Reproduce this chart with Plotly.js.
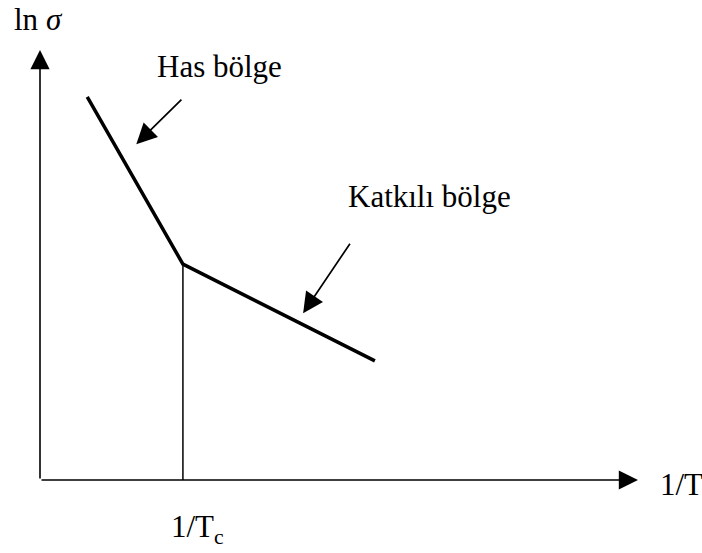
<!DOCTYPE html>
<html>
<head>
<meta charset="utf-8">
<script src="https://cdn.plot.ly/plotly-3.0.1.min.js"></script>
<style>
  html, body { margin: 0; padding: 0; background: #fff; }
  #chart { width: 702px; height: 553px; }
</style>
</head>
<body>
<div id="chart"></div>
<script>
// ln(sigma) against 1/T: intrinsic region (steep) and extrinsic region (shallow)
const invT   = [0.79, 2.39, 5.60];   // 1/T, arbitrary units
const lnSig  = [8.91, 5.02, 2.77];   // ln sigma, arbitrary units
const regionLabels = ['Has bölge', 'Katkılı bölge'];
const axisLabels   = ['ln <i>σ</i>', '1/T', '1/T<sub>c</sub>'];

const serif = 'Liberation Serif, Times New Roman, serif';
const knee = { x: invT[1], y: lnSig[1] };

const trace = {
  x: invT,
  y: lnSig,
  mode: 'lines',
  line: { color: '#000', width: 3.5 },
  hoverinfo: 'skip',
  showlegend: false
};

// arrow helper: tail (ax, ay) -> tip (x, y), all in data coordinates
function arrow(ax, ay, x, y, w, size) {
  return {
    x: x, y: y, ax: ax, ay: ay,
    xref: 'x', yref: 'y', axref: 'x', ayref: 'y',
    text: '', showarrow: true,
    arrowhead: 2, arrowsize: size, arrowwidth: w, arrowcolor: '#000'
  };
}

function label(text, x, y, xanchor, ref) {
  return {
    x: x, y: y, xref: ref, yref: ref === 'paper' ? 'paper' : 'y',
    text: text, showarrow: false,
    xanchor: xanchor, yanchor: 'middle',
    font: { family: serif, size: 31, color: '#000' }
  };
}

const layout = {
  width: 702,
  height: 553,
  margin: { l: 40, r: 64, t: 50, b: 73 },
  paper_bgcolor: '#fff',
  plot_bgcolor: '#fff',
  showlegend: false,
  xaxis: { range: [0, 10], visible: false, fixedrange: true },
  yaxis: { range: [0, 10], visible: false, fixedrange: true },
  shapes: [
    // drop line from the knee to the 1/T axis
    { type: 'line', xref: 'x', yref: 'y',
      x0: knee.x, x1: knee.x, y0: 0, y1: knee.y,
      line: { color: '#000', width: 1.5 } }
  ],
  annotations: [
    // axes with arrowheads
    arrow(0, 0, 0, 10, 1.6, 2.4),
    arrow(0, 0, 10, 0, 1.6, 2.4),
    // pointers to the two regions
    arrow(2.39, 8.88, 1.61, 7.81, 1.7, 2.4),
    arrow(5.20, 5.53, 4.40, 3.88, 1.7, 2.4),
    // text
    label(regionLabels[0], 3.00, 9.62, 'center', 'x'),
    label(regionLabels[1], 6.52, 6.59, 'center', 'x'),
    label(axisLabels[0], -0.047, 1.071, 'left', 'paper'),
    label(axisLabels[1], 1.034, -0.0105, 'left', 'paper'),
    label(axisLabels[2], 0.264, -0.115, 'center', 'paper')
  ]
};

Plotly.newPlot('chart', [trace], layout, { displayModeBar: false, staticPlot: true });
</script>
</body>
</html>
